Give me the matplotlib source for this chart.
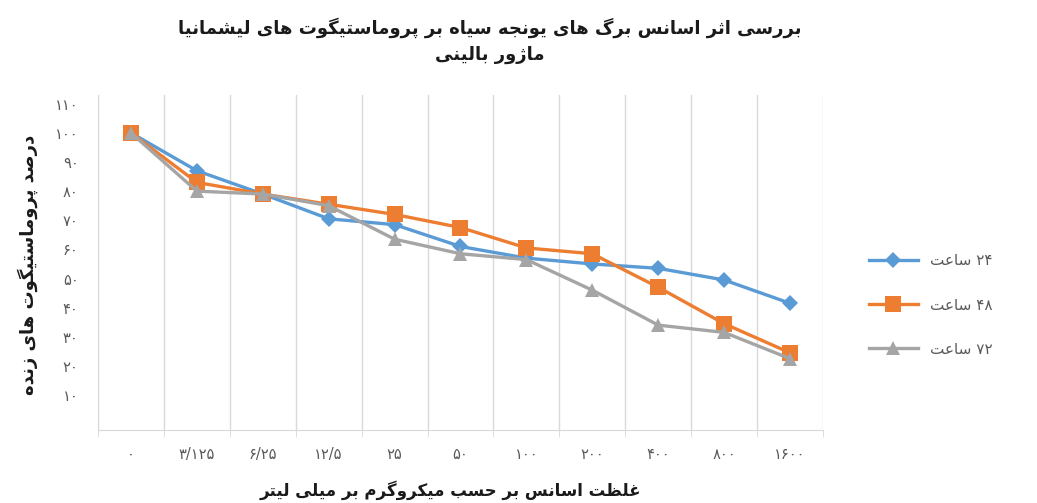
import re
import matplotlib
matplotlib.use("Agg")
import matplotlib.pyplot as plt
from matplotlib.lines import Line2D


# shaping table: isolated, final, initial, medial (None = right-joining only)
FORMS = {
    "\u0627": (0xFE8D, 0xFE8E, None, None),      # alef
    "\u0628": (0xFE8F, 0xFE90, 0xFE91, 0xFE92),  # be
    "\u067E": (0xFB56, 0xFB57, 0xFB58, 0xFB59),  # pe
    "\u062A": (0xFE95, 0xFE96, 0xFE97, 0xFE98),  # te
    "\u062B": (0xFE99, 0xFE9A, 0xFE9B, 0xFE9C),  # se
    "\u062C": (0xFE9D, 0xFE9E, 0xFE9F, 0xFEA0),  # jim
    "\u062D": (0xFEA1, 0xFEA2, 0xFEA3, 0xFEA4),  # he
    "\u062F": (0xFEA9, 0xFEAA, None, None),      # dal
    "\u0631": (0xFEAD, 0xFEAE, None, None),      # re
    "\u0632": (0xFEAF, 0xFEB0, None, None),      # ze
    "\u0698": (0xFB8A, 0xFB8B, None, None),      # zhe
    "\u0633": (0xFEB1, 0xFEB2, 0xFEB3, 0xFEB4),  # sin
    "\u0634": (0xFEB5, 0xFEB6, 0xFEB7, 0xFEB8),  # shin
    "\u0635": (0xFEB9, 0xFEBA, 0xFEBB, 0xFEBC),  # sad
    "\u0638": (0xFEC5, 0xFEC6, 0xFEC7, 0xFEC8),  # za
    "\u0639": (0xFEC9, 0xFECA, 0xFECB, 0xFECC),  # ein
    "\u063A": (0xFECD, 0xFECE, 0xFECF, 0xFED0),  # ghein
    "\u06A9": (0xFB8E, 0xFB8F, 0xFB90, 0xFB91),  # kaf
    "\u06AF": (0xFB92, 0xFB93, 0xFB94, 0xFB95),  # gaf
    "\u0644": (0xFEDD, 0xFEDE, 0xFEDF, 0xFEE0),  # lam
    "\u0645": (0xFEE1, 0xFEE2, 0xFEE3, 0xFEE4),  # mim
    "\u0646": (0xFEE5, 0xFEE6, 0xFEE7, 0xFEE8),  # nun
    "\u0647": (0xFEE9, 0xFEEA, 0xFEEB, 0xFEEC),  # he
    "\u0648": (0xFEED, 0xFEEE, None, None),      # vav
    "\u06CC": (0xFBFC, 0xFBFD, 0xFBFE, 0xFBFF),  # ye
}


def fa(text):
    """Shape Persian text by hand and put it in visual (left-to-right) order."""
    out = []
    for i, c in enumerate(text):
        if c not in FORMS:
            out.append(c)
            continue
        prev = text[i - 1] if i > 0 else None
        nxt = text[i + 1] if i + 1 < len(text) else None
        join_prev = prev in FORMS and FORMS[prev][2] is not None
        join_next = FORMS[c][2] is not None and nxt in FORMS
        isol, fina, init, medi = FORMS[c]
        if join_prev and join_next:
            code = medi
        elif join_prev:
            code = fina
        elif join_next:
            code = init
        else:
            code = isol
        out.append(chr(code))
    visual = "".join(out)[::-1]
    return re.sub(r"[\u06F0-\u06F90-9/]+", lambda m: m.group()[::-1], visual)


TITLE_LINE1 = "بررسی اثر اسانس برگ های یونجه سیاه بر پروماستیگوت های لیشمانیا"
TITLE_LINE2 = "ماژور بالینی"
X_LABEL = "غلظت اسانس بر حسب میکروگرم بر میلی لیتر"
Y_LABEL = "درصد پروماستیگوت های زنده"

CATEGORIES = ["۰", "۳/۱۲۵", "۶/۲۵", "۱۲/۵", "۲۵", "۵۰", "۱۰۰", "۲۰۰", "۴۰۰", "۸۰۰", "۱۶۰۰"]
Y_TICKS = [10, 20, 30, 40, 50, 60, 70, 80, 90, 100, 110]
Y_TICK_LABELS = ["۱۰", "۲۰", "۳۰", "۴۰", "۵۰", "۶۰", "۷۰", "۸۰", "۹۰", "۱۰۰", "۱۱۰"]

SERIES_NAMES = ["۲۴ ساعت", "۴۸ ساعت", "۷۲ ساعت"]
HOURS_24 = [100, 87, 79, 70.5, 68.5, 61, 57, 55, 53.5, 49.5, 41.5]
HOURS_48 = [100, 83, 79, 75.5, 72, 67.5, 60.5, 58.5, 47, 34.5, 24.5]
HOURS_72 = [100, 80, 79, 75, 63.5, 58.5, 56.5, 46, 34, 31.5, 22.5]

COLORS = ["#5B9BD5", "#ED7D31", "#A5A5A5"]
MARKERS = ["D", "s", "^"]
MARKER_SIZES = [8, 11, 10]

plt.rcParams["font.family"] = ["DejaVu Sans"]

fig = plt.figure(figsize=(10.37, 5.03), dpi=100)
W, H = 1037, 503
ax = fig.add_axes([98 / W, 1 - 430 / H, (823 - 98) / W, (430 - 95) / H])

x = list(range(len(CATEGORIES)))
for values, color, marker, ms in zip([HOURS_24, HOURS_48, HOURS_72], COLORS, MARKERS, MARKER_SIZES):
    ax.plot(x, values, color=color, linewidth=2.4, marker=marker, markersize=ms,
            markeredgewidth=0, zorder=3)

ax.set_xlim(-0.5, len(CATEGORIES) - 0.5)
ax.set_ylim(-2, 113)

ax.set_xticks(x)
ax.set_xticklabels(CATEGORIES, fontsize=10.5, color="#595959")
ax.set_xticks([i - 0.5 for i in range(len(CATEGORIES) + 1)], minor=True)
ax.tick_params(axis="x", which="major", length=0, pad=12)
ax.tick_params(axis="x", which="minor", length=5, color="#D9D9D9")
ax.grid(True, axis="x", which="minor", color="#D9D9D9", linewidth=1)

ax.set_yticks(Y_TICKS)
ax.set_yticklabels(Y_TICK_LABELS, fontsize=10.5, color="#595959")
ax.tick_params(axis="y", length=0, pad=14)

for side in ["top", "right"]:
    ax.spines[side].set_visible(False)
ax.spines["left"].set_color("#D9D9D9")
ax.spines["bottom"].set_color("#D9D9D9")

fig.text(490 / W, 1 - 28 / H, fa(TITLE_LINE1), ha="center", va="center",
         fontsize=13, fontweight="bold", color="#1a1a1a")
fig.text(490 / W, 1 - 55 / H, fa(TITLE_LINE2), ha="center", va="center",
         fontsize=13, fontweight="bold", color="#1a1a1a")
fig.text(450 / W, 1 - 490 / H, fa(X_LABEL), ha="center", va="center",
         fontsize=12, fontweight="bold", color="#1a1a1a")
fig.text(28 / W, 1 - 265 / H, fa(Y_LABEL), ha="center", va="center",
         rotation=90, fontsize=13, fontweight="bold", color="#1a1a1a")

handles = [Line2D([0], [0], color=c, linewidth=2.4, marker=m, markersize=ms, markeredgewidth=0)
           for c, m, ms in zip(COLORS, MARKERS, MARKER_SIZES)]
fig.legend(handles, [fa(s) for s in SERIES_NAMES], loc="center left",
           bbox_to_anchor=(855 / W, 1 - 305 / H), frameon=False, fontsize=11,
           labelcolor="#595959", handlelength=3.2, labelspacing=1.9)

fig.savefig("out.png", dpi=100)
